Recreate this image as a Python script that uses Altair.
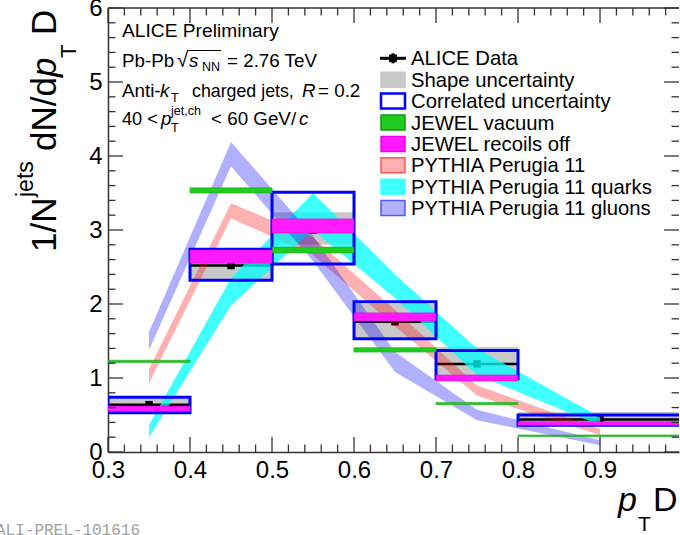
import altair as alt
import pandas as pd
import numpy as np

# ---------------- values ----------------
bin_lo = [0.3, 0.4, 0.5, 0.6, 0.7, 0.8]
bin_hi = [0.4, 0.5, 0.6, 0.7, 0.8, 1.0]
bin_center = [0.35, 0.45, 0.55, 0.65, 0.75, 0.9]
alice_val = [0.64, 2.52, 3.00, 1.76, 1.19, 0.44]
shape_lo = [0.60, 2.32, 2.80, 1.55, 0.98, 0.35]
shape_hi = [0.72, 2.72, 3.24, 2.00, 1.42, 0.54]
corr_lo = [0.53, 2.32, 2.54, 1.53, 0.99, 0.36]
corr_hi = [0.74, 2.74, 3.51, 2.03, 1.37, 0.50]
jewel_vac_lo = [1.21, 3.50, 2.69, 1.35, 0.64, 0.21]
jewel_vac_hi = [1.24, 3.57, 2.77, 1.41, 0.67, 0.23]
jewel_rec_lo = [0.55, 2.55, 2.96, 1.77, 0.96, 0.36]
jewel_rec_hi = [0.62, 2.73, 3.15, 1.88, 1.04, 0.41]

pythia_x = [0.35, 0.45, 0.55, 0.65, 0.75, 0.9]
pythia_lo = [0.93, 3.16, 2.66, 1.70, 0.76, 0.23]
pythia_hi = [1.12, 3.36, 2.90, 1.92, 0.90, 0.31]
quark_lo = [0.20, 1.98, 3.00, 2.08, 1.04, 0.36]
quark_hi = [0.36, 2.35, 3.50, 2.40, 1.40, 0.47]
gluon_lo = [1.38, 3.86, 2.58, 1.08, 0.43, 0.09]
gluon_hi = [1.62, 4.19, 2.92, 1.35, 0.57, 0.16]

x_tick_labels = [0.3, 0.4, 0.5, 0.6, 0.7, 0.8, 0.9]
y_tick_labels = [0, 1, 2, 3, 4, 5, 6]
legend_labels = ["ALICE Data", "Shape uncertainty", "Correlated uncertainty",
                 "JEWEL vacuum", "JEWEL recoils off", "PYTHIA Perugia 11",
                 "PYTHIA Perugia 11 quarks", "PYTHIA Perugia 11 gluons"]

# ---------------- layout / style ----------------
L, T, W, H = 108, 8, 571, 444
FONT = "Liberation Sans"
AX = "#333333"
legend_fill = [None, "#c8c8c8", "white", "#1fcc1f", "#ff1aff", "#ffb0b0", "#40ffff", "#b0b0ff"]
legend_stroke = [None, "#c8c8c8", "#0000ff", "#119911", "#ee00ee", "#ff5555", "#40ffff", "#5555ff"]

xs = alt.Scale(domain=[0.3, 0.9963], nice=False, zero=False)
ys = alt.Scale(domain=[0, 6], nice=False, zero=False)
xax = alt.Axis(values=x_tick_labels, format=".1f", labelFontSize=24, labelFont=FONT,
               labelColor="black", ticks=False, domain=True, domainColor=AX,
               domainWidth=1.5, grid=False, title=None, labelPadding=6,
               labelFlush=False, labelOverlap=False)
yax = alt.Axis(values=y_tick_labels, format="d", labelFontSize=24, labelFont=FONT,
               labelColor="black", ticks=False, domain=True, domainColor=AX,
               domainWidth=1.5, grid=False, title=None, labelPadding=6,
               labelFlush=False, labelOverlap=False)


def X(f):
    return alt.X(f, type="quantitative", scale=xs, axis=xax)


def Y(f):
    return alt.Y(f, type="quantitative", scale=ys, axis=yax)


bins = pd.DataFrame(dict(lo=bin_lo, hi=bin_hi, c=bin_center, v=alice_val,
                         slo=shape_lo, shi=shape_hi, clo=corr_lo, chi=corr_hi,
                         jvlo=jewel_vac_lo, jvhi=jewel_vac_hi,
                         jrlo=jewel_rec_lo, jrhi=jewel_rec_hi))
pyth = pd.DataFrame(dict(x=pythia_x, plo=pythia_lo, phi=pythia_hi,
                         qlo=quark_lo, qhi=quark_hi, glo=gluon_lo, ghi=gluon_hi))
one = pd.DataFrame({"a": [0]})

layers = []

# shape uncertainty
layers.append(alt.Chart(bins).mark_rect(color="#c8c8c8", clip=True).encode(
    x=X("lo"), x2=alt.X2("hi"), y=Y("slo"), y2=alt.Y2("shi")))
# ALICE data
layers.append(alt.Chart(bins).mark_rule(color="black", strokeWidth=2.5, clip=True).encode(
    x=X("lo"), x2=alt.X2("hi"), y=Y("v")))
layers.append(alt.Chart(bins).mark_square(color="black", size=55, opacity=1).encode(
    x=X("c"), y=Y("v")))
# PYTHIA bands
layers.append(alt.Chart(pyth).mark_area(color="#ff0000", opacity=0.31).encode(
    x=X("x"), y=Y("plo"), y2=alt.Y2("phi")))
layers.append(alt.Chart(pyth).mark_area(color="#00ffff", opacity=0.75).encode(
    x=X("x"), y=Y("qlo"), y2=alt.Y2("qhi")))
layers.append(alt.Chart(pyth).mark_area(color="#0000ff", opacity=0.31).encode(
    x=X("x"), y=Y("glo"), y2=alt.Y2("ghi")))
# correlated uncertainty boxes
layers.append(alt.Chart(bins).mark_rect(filled=False, stroke="#0000ff", strokeWidth=3, clip=True).encode(
    x=X("lo"), x2=alt.X2("hi"), y=Y("clo"), y2=alt.Y2("chi")))
# JEWEL
layers.append(alt.Chart(bins).mark_rect(color="#1fcc1f", stroke="#22aa22", strokeWidth=0.6, clip=True).encode(
    x=X("lo"), x2=alt.X2("hi"), y=Y("jvlo"), y2=alt.Y2("jvhi")))
layers.append(alt.Chart(bins).mark_rect(color="#ff1aff", stroke="#dd00dd", strokeWidth=0.6, clip=True).encode(
    x=X("lo"), x2=alt.X2("hi"), y=Y("jrlo"), y2=alt.Y2("jrhi")))

# ---------------- ticks (ROOT style, pointing inward) ----------------
xs_all = np.round(np.arange(0.30, 0.9961, 0.02), 2)
x_major = [v for v in xs_all if round(v * 100) % 10 == 0]
x_minor = [v for v in xs_all if round(v * 100) % 10 != 0]
ys_all = np.round(np.arange(0.0, 6.001, 0.2), 1)
y_major = [v for v in ys_all if round(v * 10) % 10 == 0]
y_minor = [v for v in ys_all if round(v * 10) % 10 != 0]

for vals, ln in ((x_major, 15), (x_minor, 7.5)):
    d = pd.DataFrame({"v": vals})
    layers.append(alt.Chart(d).mark_rule(color=AX, strokeWidth=1.3).encode(
        x=X("v"), y=alt.value(H), y2=alt.value(H - ln)))
    layers.append(alt.Chart(d).mark_rule(color=AX, strokeWidth=1.3).encode(
        x=X("v"), y=alt.value(0), y2=alt.value(ln)))
for vals, ln in ((y_major, 15), (y_minor, 7.5)):
    d = pd.DataFrame({"v": vals})
    layers.append(alt.Chart(d).mark_rule(color=AX, strokeWidth=1.3).encode(
        y=Y("v"), x=alt.value(0), x2=alt.value(ln)))
    layers.append(alt.Chart(d).mark_rule(color=AX, strokeWidth=1.3).encode(
        y=Y("v"), x=alt.value(W), x2=alt.value(W - ln)))
# top frame line
layers.append(alt.Chart(one).mark_rule(color=AX, strokeWidth=1.5).encode(
    x=alt.value(0), x2=alt.value(W), y=alt.value(0)))


# ---------------- text helpers (page pixel coordinates) ----------------
def txt(s, px, py, size=18.8, style="normal", angle=0, color="black", font=FONT,
        baseline="alphabetic"):
    return alt.Chart(one).mark_text(text=s, font=font, fontSize=size, fontStyle=style,
                                    angle=angle, align="left", baseline=baseline,
                                    color=color).encode(
        x=alt.value(px - L), y=alt.value(py - T))


def seg(px1, py1, px2, py2, color="black", w=1.2):
    return alt.Chart(one).mark_rule(color=color, strokeWidth=w).encode(
        x=alt.value(px1 - L), x2=alt.value(px2 - L), y=alt.value(py1 - T), y2=alt.value(py2 - T))


# ---------------- legend ----------------
ly0, ldy = 58.3, 21.4
for i, lab in enumerate(legend_labels):
    yc = ly0 + ldy * i
    if i == 0:
        layers.append(seg(380, yc, 406, yc, color="black", w=3))
        layers.append(alt.Chart(one).mark_square(color="black", size=60, opacity=1).encode(
            x=alt.value(393 - L), y=alt.value(yc - T)))
        layers.append(seg(393, yc - 5, 393, yc + 5, color="black", w=3))
    else:
        layers.append(alt.Chart(one).mark_rect(
            fill=legend_fill[i], stroke=legend_stroke[i],
            strokeWidth=2.5 if i == 2 else 1.5).encode(
            x=alt.value(381 - L), x2=alt.value(405 - L),
            y=alt.value(yc - 7.5 - T), y2=alt.value(yc + 7.5 - T)))
    layers.append(txt(lab, 411, yc + 1, size=20.3, baseline="middle"))

# ---------------- annotations ----------------
layers += [
    txt("ALICE Preliminary", 122, 37, size=19.2),
    txt("Pb-Pb", 122, 67),
    txt("\u221a", 177, 67, size=20),
    seg(187, 50.5, 221, 50.5),
    txt("s", 189, 67, style="italic"),
    txt("NN", 202, 71, size=12.5),
    txt("= 2.76 TeV", 227, 67),
    txt("Anti-", 122, 97),
    txt("k", 160, 97, style="italic"),
    txt("T", 171, 102, size=12.5),
    txt("charged jets,", 192, 97, size=17.8),
    txt("R", 302, 97, style="italic"),
    txt("= 0.2", 318, 97),
    txt("40 <", 122, 125, size=18.2),
    txt("p", 161, 125, style="italic"),
    txt("jet,ch", 171, 115, size=12.5),
    txt("T", 171, 132, size=12.5),
    txt("< 60 GeV/", 211, 125),
    txt("c", 299, 125, style="italic"),
]

# y-axis title (rotated)
layers += [
    txt("1/N", 56, 252, size=35, angle=270),
    txt("jets", 33, 197, size=23, angle=270),
    txt("dN/d", 56, 151, size=35, angle=270),
    txt("p", 56, 77, size=35, style="italic", angle=270),
    txt("T", 76, 58, size=22, angle=270),
    txt("D", 56, 35, size=35, angle=270),
]
# x-axis title
layers += [
    txt("p", 618, 511, size=34, style="italic"),
    txt("T", 638, 531, size=21),
    txt("D", 653, 511, size=34),
]
# watermark
layers.append(txt("ALI-PREL-101616", -4, 535, size=16, color="#a0a0a0", font="Liberation Mono"))

chart = alt.layer(*layers).properties(
    width=W, height=H,
    autosize=alt.AutoSizeParams(type="none"),
    padding={"left": L, "top": T, "right": 680 - L - W, "bottom": 535 - T - H},
    background="white",
).configure_view(stroke=None)

chart.save("out.html", embed_options={"renderer": "svg", "actions": False})
